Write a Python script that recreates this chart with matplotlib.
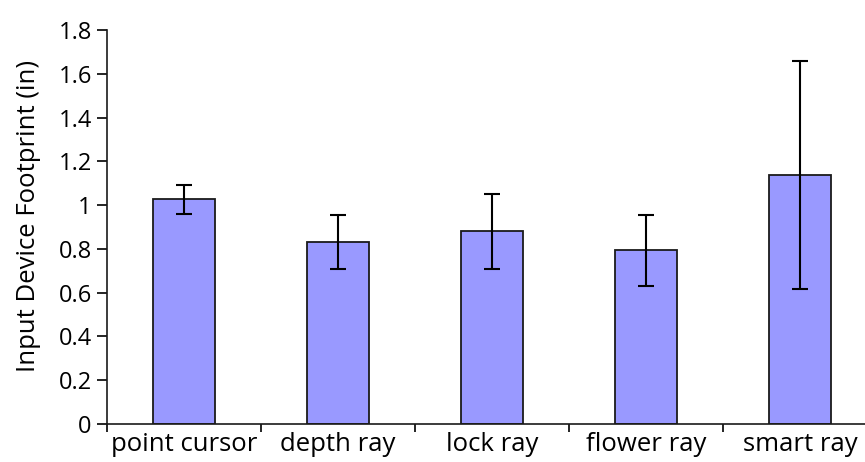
import numpy as np
import matplotlib.pyplot as plt

plt.rcParams['font.family'] = ['Open Sans', 'DejaVu Sans']

techniques = ['point cursor', 'depth ray', 'lock ray', 'flower ray', 'smart ray']
footprint = [1.027, 0.833, 0.881, 0.793, 1.137]
footprint_err = [0.066, 0.123, 0.171, 0.162, 0.521]
y_ticks = [0, 0.2, 0.4, 0.6, 0.8, 1, 1.2, 1.4, 1.6, 1.8]
y_tick_labels = ['0', '0.2', '0.4', '0.6', '0.8', '1', '1.2', '1.4', '1.6', '1.8']

fig = plt.figure(figsize=(8.65, 4.62), dpi=100)
# axes runs a little past the right edge, like the cropped original
ax = fig.add_axes([107 / 865, 38 / 462, 770 / 865, 394 / 462])

x = np.arange(len(techniques))
ax.bar(x, footprint, width=0.4, color='#9999ff', edgecolor='#1a1a1a', linewidth=1.3,
       yerr=footprint_err, capsize=6,
       error_kw=dict(ecolor='black', elinewidth=1.5, capthick=1.5))

ax.set_xlim(-0.5, len(techniques) - 0.5)
ax.set_ylim(0, 1.8)
ax.set_yticks(y_ticks)
ax.set_yticklabels(y_tick_labels, fontsize=17)
ax.set_ylabel('Input Device Footprint (in)', fontsize=18.5)
ax.yaxis.set_label_coords(-0.086, 0.528)

ax.set_xticks(x)
ax.set_xticklabels(techniques, fontsize=18.5)
ax.tick_params(axis='x', which='major', length=0, pad=6)
ax.set_xticks(np.arange(-0.5, len(techniques), 1.0), minor=True)
ax.tick_params(axis='x', which='minor', length=6, width=1.2, direction='out')
ax.tick_params(axis='y', length=7, width=1.2, direction='out', pad=4)

for side in ['top', 'right']:
    ax.spines[side].set_visible(False)
for side in ['left', 'bottom']:
    ax.spines[side].set_linewidth(1.2)
    ax.spines[side].set_color('#1a1a1a')

fig.savefig('out.png', dpi=100)
